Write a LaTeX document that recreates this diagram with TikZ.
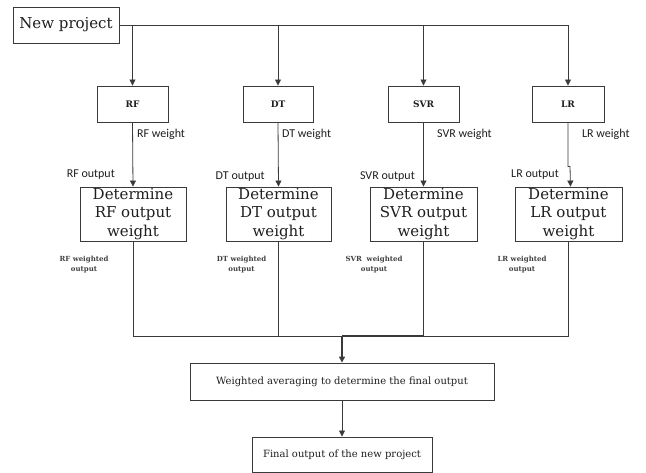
\documentclass[tikz,border=0pt]{standalone}
\usepackage{fontspec}
\setmainfont{DejaVu Serif}
\newfontfamily\calib{Carlito}
\usetikzlibrary{arrows.meta,calc}
\definecolor{ln}{HTML}{3A3A3A}
\definecolor{tx}{HTML}{1E1E1E}
\begin{document}
\begin{tikzpicture}[x=1pt,y=-1pt,
  box/.style={draw=ln,line width=0.9pt,inner sep=0pt,align=center,text=tx},
  arr/.style={-{Triangle[width=6pt,length=6pt]}},
  conn/.style={draw=ln,line width=0.8pt},
  lab/.style={font=\calib\fontsize{12}{14}\selectfont,text=tx,inner sep=0pt},
  wlab/.style={font=\fontsize{7}{10}\selectfont\bfseries,text=tx!85,inner sep=0pt,align=center},
  big/.style={font=\fontsize{15}{18.5}\selectfont}]
\useasboundingbox (0,0) rectangle (646,473);
% top
\node[box,big,minimum width=106pt,minimum height=36pt] (np) at (66,25) {New project};
\foreach \n/\t/\x/\w in {rf/RF/132.5/71,dt/DT/278/70,svr/SVR/423.5/71,lr/LR/568/72}{
  \node[box,font=\fontsize{9}{10}\selectfont\bfseries,minimum width=\w pt,minimum height=36pt] (\n) at (\x,104) {\t};
}
\foreach \n/\t/\x/\w in {rf/RF/133/106,dt/DT/278.5/105,svr/SVR/423.5/107,lr/LR/568.5/107}{
  \node[box,big,minimum width=\w pt,minimum height=54pt] (\n-d) at (\x,214) {Determine\\\t\ output\\weight};
}
\node[box,font=\fontsize{10}{12}\selectfont,minimum width=304pt,minimum height=37pt] (avg) at (342,381.5) {Weighted averaging to determine the final output};
\node[box,font=\fontsize{10}{12}\selectfont,minimum width=180pt,minimum height=35pt] (fin) at (342,454.5) {Final output of the new project};
% labels
\node[lab,anchor=west] (rfw) at (137,134) {RF weight};
\node[lab,anchor=west] (dtw) at (282,134) {DT weight};
\node[lab,anchor=west] (svrw) at (437,134) {SVR weight};
\node[lab,anchor=west] (lrw) at (582,134) {LR weight};
\node[lab,anchor=east] (rfo) at (115,175) {RF output};
\node[lab,anchor=east] (dto) at (265,177) {DT output};
\node[lab,anchor=east] (svro) at (415,177) {SVR output};
\node[lab,anchor=east] (lro) at (559,175) {LR output};
\node[wlab] (rfwo) at (84,265) {RF weighted\\output};
\node[wlab] (dtwo) at (241.5,265) {DT weighted\\output};
\node[wlab] (svrwo) at (374,265) {SVR\ \ weighted\\output};
\node[wlab] (lrwo) at (522,265) {LR weighted\\output};
% connectors top
\draw[conn,arr] (np.east) -| (lr.north);
\foreach \n in {rf,dt,svr}{\draw[conn,arr] (np.east -| \n.north) -- (\n.north);}
\draw[conn,arr] (rf.south) -- (rf-d.north);
\draw[conn,arr] (dt.south) -- (dt-d.north);
\draw[conn,arr] (svr.south) -- (svr-d.north);
\draw[conn,arr] (lr.south) -- ++(0,44) -- ++(2,0) -- ([xshift=2pt]lr-d.north);
% connectors bottom
\coordinate (join) at (342,336);
\draw[conn] (rf-d.south) |- (join);
\draw[conn] (lr-d.south) |- (join);
\draw[conn] (dt-d.south) |- (join);
\draw[conn,line width=1.2pt] (svr-d.south) |- (join);
\draw[conn,arr,line width=1.4pt] (join) -- (avg.north);
\draw[conn,arr] (avg.south) -- (fin.north);
\end{tikzpicture}
\end{document}
